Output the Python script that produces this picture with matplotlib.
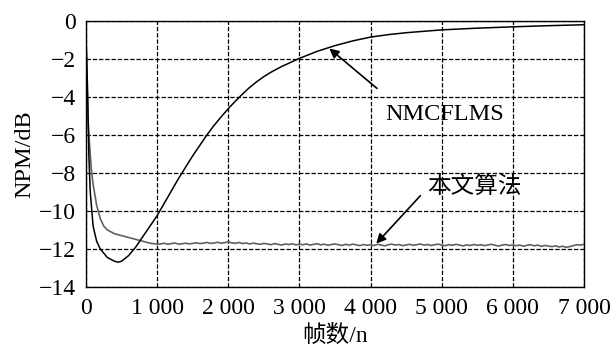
import matplotlib
matplotlib.use("Agg")
import matplotlib.pyplot as plt
import numpy as np

plt.rcParams['font.family'] = ['Liberation Serif', 'Noto Sans CJK SC']
plt.rcParams['axes.unicode_minus'] = True

# NMCFLMS curve (frames, NPM dB)
nm_x = [0, 10, 25, 40, 60, 100, 150, 200, 300, 400, 450, 500, 600, 700, 800, 900,
        1000, 1100, 1200, 1300, 1400, 1500, 1600, 1700, 1800, 1900, 2000, 2100, 2200,
        2300, 2400, 2500, 2600, 2750, 3000, 3250, 3500, 3750, 4000, 4250, 4500,
        5000, 5500, 6000, 6500, 7000]
nm_y = [-0.9, -2.0, -4.0, -7.0, -9.0, -10.8, -11.6, -12.0, -12.45, -12.65, -12.7, -12.65,
        -12.35, -11.9, -11.35, -10.8, -10.25, -9.6, -8.95, -8.3, -7.7, -7.1, -6.55,
        -6.0, -5.5, -5.05, -4.62, -4.22, -3.85, -3.5, -3.2, -2.93, -2.7, -2.4, -1.97,
        -1.6, -1.3, -1.05, -0.85, -0.72, -0.62, -0.47, -0.38, -0.31, -0.25, -0.2]

# Proposed algorithm (本文算法)
pr_head_x = [0, 10, 25, 50, 75, 100, 150, 200, 250, 300, 400, 500, 600, 700, 800, 900, 1000]
pr_head_y = [-0.9, -2.5, -5.0, -6.5, -7.8, -8.6, -9.7, -10.4, -10.8, -11.0, -11.2, -11.3,
             -11.4, -11.5, -11.6, -11.7, -11.75]
pr_tail_y = [
    -11.74, -11.70, -11.76, -11.72, -11.69, -11.75, -11.73, -11.70, -11.74, -11.71,
    -11.68, -11.72, -11.70, -11.66, -11.71, -11.69, -11.65, -11.70, -11.67, -11.64,
    -11.68, -11.71, -11.66, -11.72, -11.69, -11.74, -11.70, -11.73, -11.76, -11.71,
    -11.74, -11.78, -11.72, -11.76, -11.80, -11.74, -11.77, -11.73, -11.79, -11.75,
    -11.78, -11.74, -11.80, -11.76, -11.73, -11.79, -11.75, -11.81, -11.77, -11.74,
    -11.78, -11.82, -11.76, -11.80, -11.75, -11.79, -11.83, -11.77, -11.81, -11.78,
    -11.82, -11.76, -11.80, -11.84, -11.78, -11.75, -11.80, -11.77, -11.83, -11.79,
    -11.76, -11.81, -11.78, -11.74, -11.80, -11.77, -11.82, -11.78, -11.75, -11.80,
    -11.83, -11.78, -11.81, -11.76, -11.80, -11.84, -11.79, -11.82, -11.77, -11.81,
    -11.78, -11.83, -11.79, -11.76, -11.81, -11.85, -11.80, -11.77, -11.82, -11.79,
    -11.83, -11.80, -11.86, -11.81, -11.78, -11.84, -11.80, -11.87, -11.82, -11.85,
    -11.88, -11.84, -11.90, -11.86, -11.92, -11.88, -11.83, -11.78, -11.80, -11.76]
pr_tail_x = list(range(1050, 7001, 50))

x_ticks = [0, 1000, 2000, 3000, 4000, 5000, 6000, 7000]
x_ticklabels = ['0', '1 000', '2 000', '3 000', '4 000', '5 000', '6 000', '7 000']
y_ticks = [0, -2, -4, -6, -8, -10, -12, -14]

fig = plt.figure(figsize=(6.15, 3.49), dpi=100)
ax = fig.add_axes([0.1398, 0.178, 0.8098, 0.762])

ax.plot(pr_head_x + pr_tail_x, pr_head_y + pr_tail_y, color='#606060', lw=1.2)
ax.plot(nm_x, nm_y, color='black', lw=1.1)

ax.set_xlim(0, 7000)
ax.set_ylim(-14, 0)
ax.set_xticks(x_ticks)
ax.set_xticklabels(x_ticklabels)
ax.set_yticks(y_ticks)
ax.tick_params(length=0, labelsize=17)
ax.tick_params(axis='x', pad=8)
ax.tick_params(axis='y', pad=7)
ax.grid(True, color='black', linestyle=(0, (3.5, 1.5)), linewidth=0.9)
for s in ax.spines.values():
    s.set_linewidth(1.0)

ax.set_xlabel('帧数/n', fontsize=17, labelpad=4)
ax.set_ylabel('NPM/dB', fontsize=17.5, labelpad=3)

arrow_kw = dict(arrowstyle='-|>', color='black', lw=1.2, shrinkA=0, shrinkB=0,
                mutation_scale=14)
ax.annotate('', xy=(3420, -1.45), xytext=(4090, -3.55), arrowprops=arrow_kw)
ax.text(5040, -4.9, 'NMCFLMS', fontsize=17.5, ha='center', va='center')
ax.annotate('', xy=(4080, -11.72), xytext=(4700, -9.2), arrowprops=arrow_kw)
ax.text(5460, -8.75, '本文算法', fontsize=17, ha='center', va='center')

fig.savefig('out.png', dpi=100)
